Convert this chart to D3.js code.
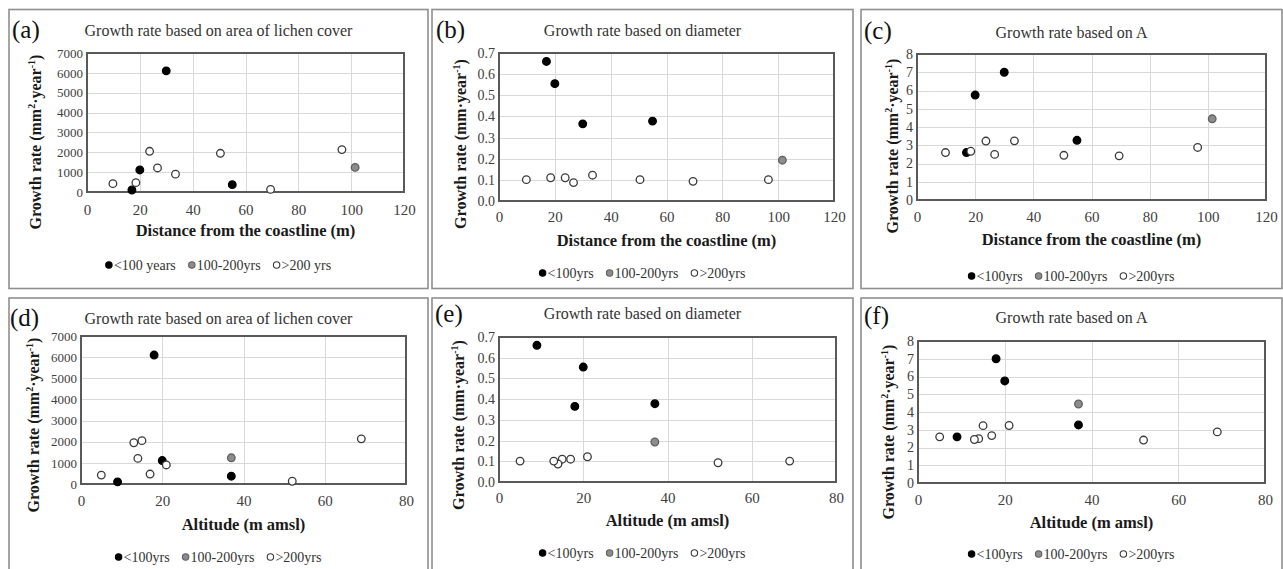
<!DOCTYPE html>
<meta charset="utf-8">
<style>
  body { margin:0; background:#fff; }
  svg { display:block; font-family:"Liberation Serif","Times New Roman",serif; }
  .grid line { stroke:#d9d9d9; stroke-width:1; shape-rendering:crispEdges; }
  .grid path { stroke-width:0; }
  .ticks path { display:none; }
  .panel-box { fill:none; stroke:#8f8f8f; stroke-width:1.6; }
  .plot-box { fill:none; stroke:#595959; stroke-width:1.2; shape-rendering:crispEdges; }
</style>
<script src="https://d3js.org/d3.v7.min.js"></script>
<body>
<div id="chart"></div>
<script>

var serif = "'Liberation Serif','Times New Roman',serif";

// one entry per lichen sample
var ageGroup     = [0, 0, 0, 0, 1, 2, 2, 2, 2, 2, 2, 2, 2];   // 0:<100, 1:100-200, 2:>200 yrs
var distance     = [17, 20, 30, 55, 101.5, 9.8, 18.5, 23.7, 26.7, 33.5, 50.5, 69.5, 96.5];
var altitude     = [9, 20, 18, 37, 37, 5, 17, 15, 14, 21, 13, 52, 69];
var areaRate     = [100, 1110, 6100, 370, 1240, 420, 470, 2050, 1210, 900, 1950, 130, 2135];
var diameterRate = [0.66, 0.555, 0.365, 0.378, 0.193, 0.101, 0.11, 0.11, 0.087, 0.122, 0.101, 0.093, 0.101];
var aRate        = [2.6, 5.75, 7.0, 3.27, 4.45, 2.6, 2.67, 3.23, 2.5, 3.24, 2.45, 2.42, 2.88];

var distTicks = [0, 20, 40, 60, 80, 100, 120];
var altTicks  = [0, 20, 40, 60, 80];
var areaTicks = [0, 1000, 2000, 3000, 4000, 5000, 6000, 7000];
var diamTicks = [0, 0.1, 0.2, 0.3, 0.4, 0.5, 0.6, 0.7];
var aTicks    = [0, 1, 2, 3, 4, 5, 6, 7, 8];

var legendLabelsA = ["<100 years", "100-200yrs", ">200 yrs"];
var legendLabels  = ["<100yrs", "100-200yrs", ">200yrs"];

var fills   = ["#000000", "#8c8c8c", "#ffffff"];
var strokes = ["#000000", "#5f5f5f", "#3a3a3a"];

var distTitle = "Distance from the coastline (m)";
var altTitle  = "Altitude (m amsl)";

var panels = [
  {tag:"(a)", title:"Growth rate based on area of lichen cover", xs:distance, ys:areaRate,
   xDomain:[0,120], xTicks:distTicks, yDomain:[0,7000], yTicks:areaTicks, yFmt:d3.format("d"), yTickSize:13,
   xTitle:distTitle, unit:"area", legend:legendLabelsA,
   box:[9,9.5,428,288.5], plot:[87,53,404,192], titleY:30, tagX:12, tagY:29,
   xTickY:210, xTitleY:230, legendY:265, yLabX:35, yLabY:142},
  {tag:"(b)", title:"Growth rate based on diameter", xs:distance, ys:diameterRate,
   xDomain:[0,120], xTicks:distTicks, yDomain:[0,0.7], yTicks:diamTicks, yFmt:d3.format(".1f"), yTickSize:14,
   xTitle:distTitle, unit:"diam", legend:legendLabels,
   box:[432,9.5,853,288.5], plot:[499,53,834,201], titleY:30, tagX:436, tagY:29,
   xTickY:217, xTitleY:240, legendY:273, yLabX:460, yLabY:144},
  {tag:"(c)", title:"Growth rate based on A", xs:distance, ys:aRate,
   xDomain:[0,120], xTicks:distTicks, yDomain:[0,8], yTicks:aTicks, yFmt:d3.format("d"), yTickSize:14,
   xTitle:distTitle, unit:"area", legend:legendLabels,
   box:[861,9.5,1282,288.5], plot:[917,54,1266,200], titleY:32, tagX:864, tagY:30,
   xTickY:217, xTitleY:239, legendY:276, yLabX:892, yLabY:146},
  {tag:"(d)", title:"Growth rate based on area of lichen cover", xs:altitude, ys:areaRate,
   xDomain:[0,80], xTicks:altTicks, yDomain:[0,7000], yTicks:areaTicks, yFmt:d3.format("d"), yTickSize:13,
   xTitle:altTitle, unit:"area", legend:legendLabels,
   box:[9,298,428,575], plot:[81,336,406,484], titleY:318, tagX:10, tagY:317,
   xTickY:501, xTitleY:524, legendY:557, yLabX:33, yLabY:425},
  {tag:"(e)", title:"Growth rate based on diameter", xs:altitude, ys:diameterRate,
   xDomain:[0,80], xTicks:altTicks, yDomain:[0,0.7], yTicks:diamTicks, yFmt:d3.format(".1f"), yTickSize:14,
   xTitle:altTitle, unit:"diam", legend:legendLabels,
   box:[432,298,853,575], plot:[499,337,836,482], titleY:313, tagX:435, tagY:313,
   xTickY:498, xTitleY:520, legendY:553, yLabX:458, yLabY:425},
  {tag:"(f)", title:"Growth rate based on A", xs:altitude, ys:aRate,
   xDomain:[0,80], xTicks:altTicks, yDomain:[0,8], yTicks:aTicks, yFmt:d3.format("d"), yTickSize:14,
   xTitle:altTitle, unit:"area", legend:legendLabels,
   box:[861,298,1282,575], plot:[918,341,1265,483], titleY:317, tagX:864, tagY:315,
   xTickY:500, xTitleY:522, legendY:554, yLabX:888, yLabY:432}
];

var svg = d3.select("#chart").append("svg")
    .attr("width", 1283)
    .attr("height", 569)
    .style("font-family", serif);

panels.forEach(drawPanel);

function drawPanel(p) {
  var g = svg.append("g");
  var left = p.plot[0], top = p.plot[1], right = p.plot[2], bottom = p.plot[3];
  var w = right - left, h = bottom - top;

  g.append("rect").attr("class", "panel-box")
    .attr("x", p.box[0]).attr("y", p.box[1])
    .attr("width", p.box[2] - p.box[0]).attr("height", p.box[3] - p.box[1]);

  g.append("text")
    .attr("x", p.tagX).attr("y", p.tagY)
    .attr("dy", "0.35em")
    .style("font-family", serif)
    .style("font-size", "25px").style("fill", "#111")
    .text(p.tag);

  g.append("text")
    .attr("x", (p.box[0] + p.box[2]) / 2).attr("y", p.titleY)
    .attr("dy", "0.35em").attr("text-anchor", "middle")
    .style("font-family", serif)
    .style("font-size", "16px").style("fill", "#333")
    .text(p.title);

  var x = d3.scaleLinear().domain(p.xDomain).range([0, w]);
  var y = d3.scaleLinear().domain(p.yDomain).range([h, 0]);

  var plot = g.append("g").attr("transform", "translate(" + left + "," + top + ")");

  plot.append("g").attr("class", "grid")
    .attr("transform", "translate(0," + h + ")")
    .call(d3.axisBottom(x).tickValues(p.xTicks).tickSize(-h).tickFormat(""));
  plot.append("g").attr("class", "grid")
    .call(d3.axisLeft(y).tickValues(p.yTicks).tickSize(-w).tickFormat(""));

  plot.append("rect").attr("class", "plot-box")
    .attr("width", w).attr("height", h);

  var xa = plot.append("g").attr("class", "ticks")
    .attr("transform", "translate(0," + h + ")")
    .call(d3.axisBottom(x).tickValues(p.xTicks).tickSize(0).tickFormat(d3.format("d")));
  xa.attr("font-family", serif);
  xa.selectAll("text")
    .attr("y", p.xTickY - bottom).attr("dy", "0.35em")
    .style("font-family", serif)
    .style("fill", "#404040")
    .style("font-size", "15px");

  var ya = plot.append("g").attr("class", "ticks")
    .call(d3.axisLeft(y).tickValues(p.yTicks).tickSize(0).tickPadding(4).tickFormat(p.yFmt));
  ya.attr("font-family", serif);
  ya.selectAll("text")
    .style("font-family", serif)
    .style("fill", "#404040")
    .style("font-size", p.yTickSize + "px");

  // x axis title
  g.append("text")
    .attr("x", (left + right) / 2).attr("y", p.xTitleY)
    .attr("dy", "0.35em").attr("text-anchor", "middle")
    .style("font-family", serif)
    .style("font-size", "16.5px").style("font-weight", "bold").style("fill", "#1a1a1a")
    .text(p.xTitle);

  // y axis title
  var yl = g.append("text")
    .attr("transform", "translate(" + p.yLabX + "," + p.yLabY + ") rotate(-90)")
    .attr("dy", "0.35em").attr("text-anchor", "middle")
    .style("font-family", serif)
    .style("font-size", "16px").style("font-weight", "bold").style("fill", "#1a1a1a");
  if (p.unit == "area") {
    yl.append("tspan").text("Growth rate (mm");
    yl.append("tspan").attr("dy", -6).style("font-size", "10px").text("2");
    yl.append("tspan").attr("dy", 6).text("\u00b7year");
  } else {
    yl.append("tspan").text("Growth rate (mm\u00b7year");
  }
  yl.append("tspan").attr("dy", -6).style("font-size", "10px").text("-1");
  yl.append("tspan").attr("dy", 6).text(")");

  // points
  var idx = d3.range(p.xs.length);
  plot.append("g").selectAll("circle")
    .data(idx)
    .enter().append("circle")
      .attr("cx", function(i) { return x(p.xs[i]); })
      .attr("cy", function(i) { return y(p.ys[i]); })
      .attr("r", 3.8)
      .attr("fill", function(i) { return fills[ageGroup[i]]; })
      .attr("stroke", function(i) { return strokes[ageGroup[i]]; })
      .attr("stroke-width", 1.3);

  // legend
  var lg = g.append("g");
  var items = lg.selectAll("g").data(p.legend).enter().append("g");
  items.append("circle")
    .attr("r", 3.2)
    .attr("fill", function(d, i) { return fills[i]; })
    .attr("stroke", function(d, i) { return strokes[i]; })
    .attr("stroke-width", 1.1);
  items.append("text")
    .attr("x", 5).attr("dy", "0.35em")
    .style("font-family", serif)
    .style("font-size", "14px").style("fill", "#333")
    .text(function(d) { return d; });
  var pos = 0, offsets = [];
  items.each(function() {
    var tw = d3.select(this).select("text").node().getComputedTextLength();
    offsets.push(pos);
    pos += 5 + tw + 16;
  });
  var total = pos - 16 + 3;
  var start = (p.box[0] + p.box[2]) / 2 - total / 2 + 3;
  items.attr("transform", function(d, i) {
    return "translate(" + (start + offsets[i]) + "," + p.legendY + ")";
  });
}
</script>
</body>
